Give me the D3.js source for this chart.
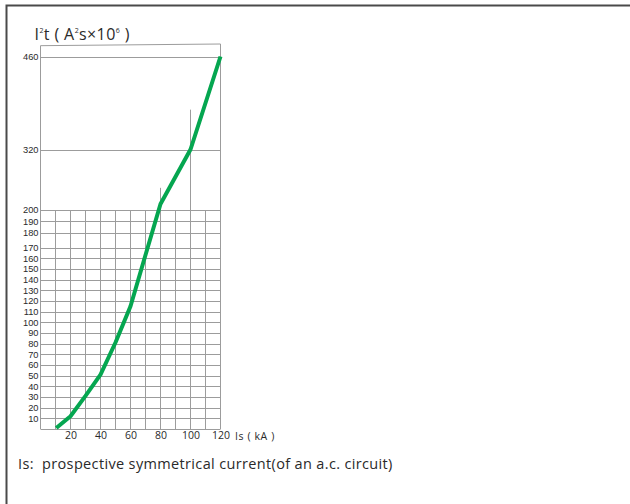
<!DOCTYPE html>
<html><head><meta charset="utf-8">
<script src="https://cdn.jsdelivr.net/npm/d3@7"></script>
<style>
html,body{margin:0;padding:0;background:#fff;}
svg{display:block;}
text{font-family:"Open Sans","Noto Sans",sans-serif;fill:#2a2a2a;}
</style></head>
<body>
<script>
// ---- data ----
const currentKA = [10.5, 20, 30, 40, 50, 60, 70, 80, 100, 120];
const i2tValues = [1, 12, 31, 51, 81, 115, 163, 212, 320, 460];
const yTickLabels = [10,20,30,40,50,60,70,80,90,100,110,120,130,140,150,160,170,180,190,200,320,460];
const yGridLower = [10,20,30,40,50,60,70,80,90,100,110,120,130,140,150,160,170,180,190,200];
const yGridUpper = [320, 460];
const xGrid = [0,10,20,30,40,50,60,70,80,90,100,110,120];
const xTickLabels = [20,40,60,80,100,120];
const extraVerticals = [{x:80, top:244}, {x:100, top:380}];
const titleParts = [["I",0],["2",1],["t ( A",0],["2",1],["s×10",0],["6",1],[" )",0]];
const xAxisTitle = "Is ( kA )";
const footnote = "Is:  prospective symmetrical current(of an a.c. circuit)";

const W = 630, H = 504;
const svg = d3.select("body").append("svg").attr("width", W).attr("height", H);

// outer frame (partially visible)
svg.append("path").attr("d", "M6.5,504 L6.5,5.5 L630,5.5")
  .attr("fill","none").attr("stroke","#4a4a4a").attr("stroke-width",2);

const x = d3.scaleLinear().domain([0,120]).range([40.5,220.5]);
const y = d3.scaleLinear().domain([0,170,180,200,320,460]).range([429,247.5,232.5,210,149.5,56.5]);

const grid = svg.append("g").attr("stroke","#9c9c9c").attr("stroke-width",1).attr("fill","none");
// lower dense grid
grid.selectAll(".hl").data(yGridLower).join("line")
  .attr("x1", x(0)).attr("x2", x(120))
  .attr("y1", d => Math.round(y(d))+0.5).attr("y2", d => Math.round(y(d))+0.5);
grid.append("line").attr("x1", x(0)).attr("x2", x(120)).attr("y1", y(0)+0.5).attr("y2", y(0)+0.5);
grid.selectAll(".vl").data(xGrid).join("line")
  .attr("x1", d => x(d)).attr("x2", d => x(d))
  .attr("y1", y(0)).attr("y2", Math.round(y(200))+0.5);
// upper sparse grid
grid.selectAll(".hu").data(yGridUpper).join("line")
  .attr("x1", x(0)).attr("x2", x(120))
  .attr("y1", d => Math.round(y(d))+0.5).attr("y2", d => Math.round(y(d))+0.5);
grid.selectAll(".ev").data(extraVerticals).join("line")
  .attr("x1", d => x(d.x)).attr("x2", d => x(d.x))
  .attr("y1", y(200)).attr("y2", d => y(d.top));
// frame of chart (left, right, slightly slanted top)
grid.append("path")
  .attr("d", `M${x(0)},${y(0)} L${x(0)},${y(476.3)} L${x(120)},${y(478.8)} L${x(120)},${y(0)}`);

// y labels
const yAxis = svg.append("g").attr("transform", `translate(${x(0)},0)`)
  .call(d3.axisLeft(y).tickValues(yTickLabels).tickSize(0).tickPadding(2));
yAxis.select(".domain").remove();
yAxis.selectAll("text").attr("font-size", 9.3).attr("fill", "#1e1e1e")
  .style("font-family", '"Liberation Sans",Arial,sans-serif');

// x labels
const xAxis = svg.append("g").attr("transform", `translate(0,${y(0)})`)
  .call(d3.axisBottom(x).tickValues(xTickLabels).tickSize(0).tickPadding(3));
xAxis.select(".domain").remove();
xAxis.selectAll("text").attr("font-size", 10.5).attr("fill", "#2a2a2a")
  .style("font-family", '"Open Sans",sans-serif');

svg.append("text").attr("x", 235).attr("y", 439.5).attr("font-size", 10.5)
  .attr("letter-spacing", 0.6).attr("xml:space","preserve").text(xAxisTitle);

// curve
const pts = currentKA.map((c,i) => [c, i2tValues[i]]);
svg.append("path").datum(pts)
  .attr("d", d3.line().x(d => x(d[0])).y(d => y(d[1])))
  .attr("fill","none").attr("stroke","#05a650").attr("stroke-width",4)
  .attr("stroke-linejoin","round");

// title
const t = svg.append("text").attr("x", 34.5).attr("y", 39.5).attr("font-size", 16)
  .attr("letter-spacing", 0.4).attr("xml:space","preserve");
titleParts.forEach(([s, sup], i) => {
  const ts = t.append("tspan").text(s);
  if (sup) ts.attr("font-size", 7).attr("dy", -7);
  else if (i > 0) ts.attr("dy", 7);
});

// footnote
svg.append("text").attr("x", 18).attr("y", 469.3).attr("font-size", 14.5)
  .attr("letter-spacing", 0.35)
  .attr("xml:space","preserve").style("white-space","pre").text(footnote);
</script>
</body></html>
